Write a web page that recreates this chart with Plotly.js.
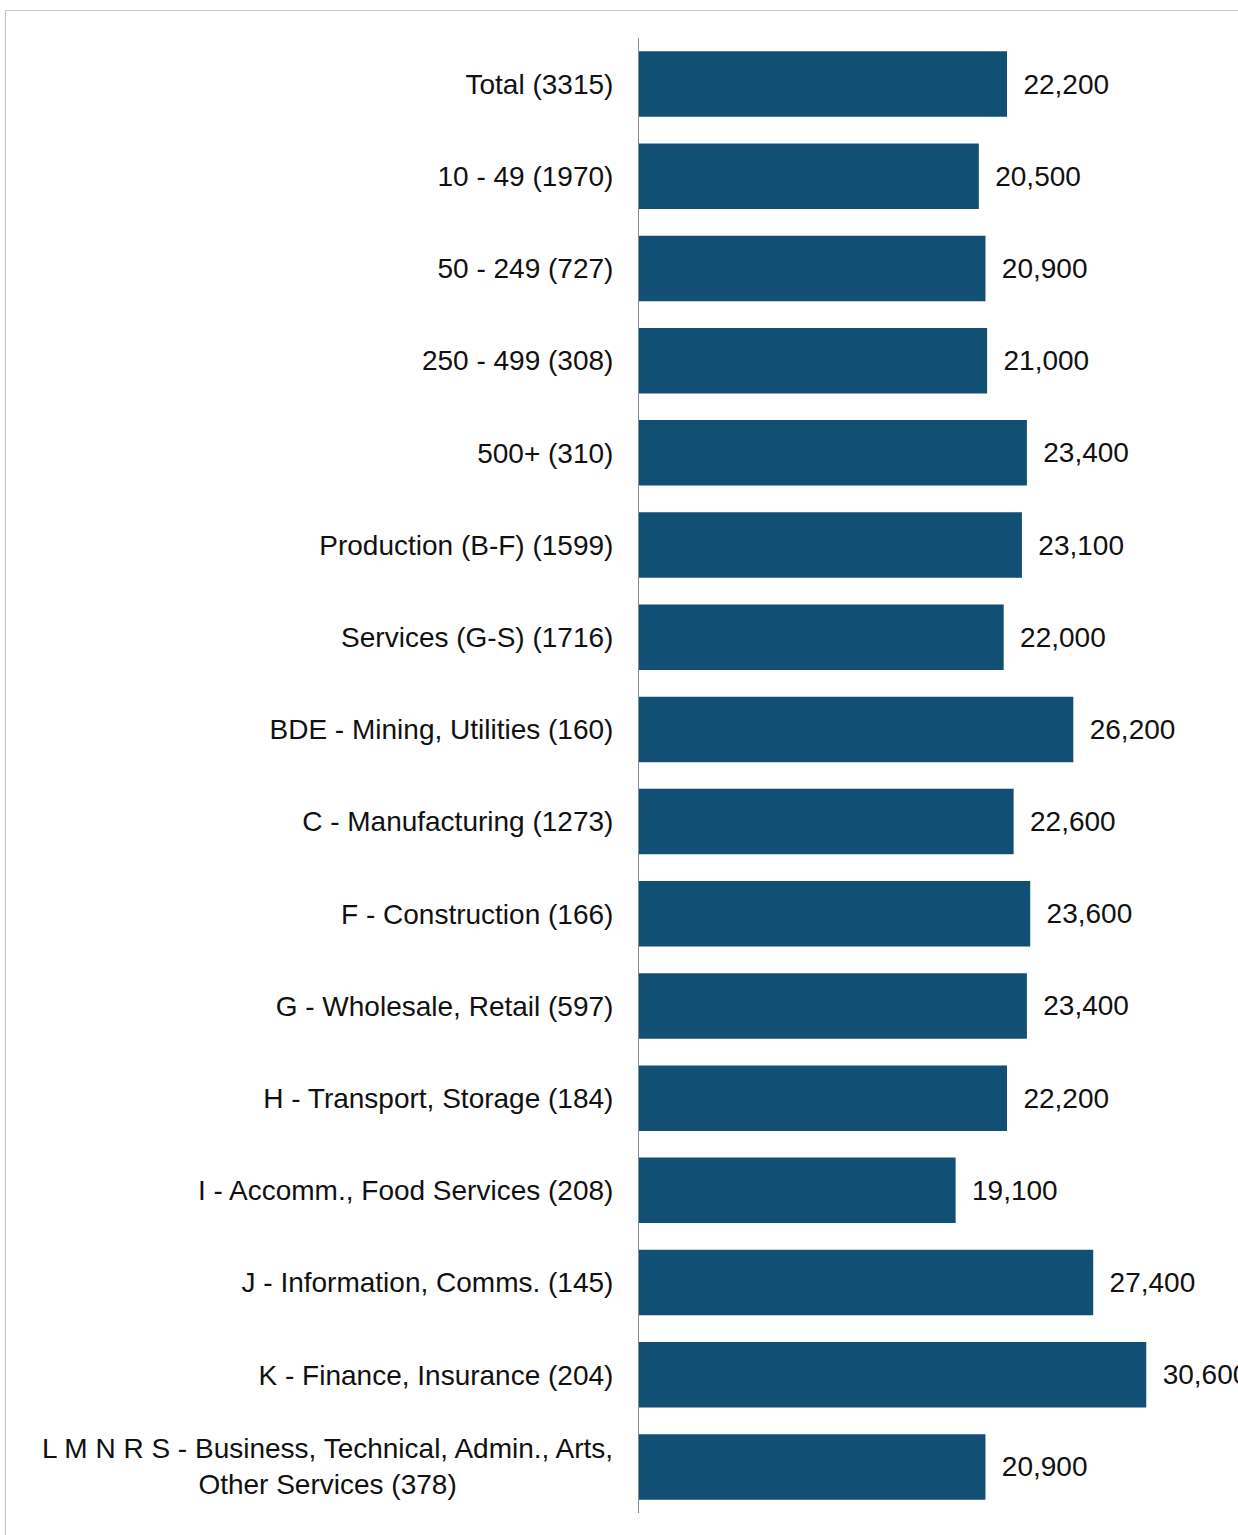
<!DOCTYPE html>
<html>
<head>
<meta charset="utf-8">
<script src="https://cdn.plot.ly/plotly-3.0.1.min.js"></script>
<style>
  html, body { margin: 0; padding: 0; background: #ffffff; overflow: hidden; }
  #frame { position: absolute; left: 5px; top: 10px; width: 1400px; height: 1700px;
           border: 1px solid #c4c4c4; box-sizing: border-box; }
  #chart { position: absolute; left: 0; top: 0; width: 1238px; height: 1535px; }
</style>
</head>
<body>
<div id="frame"></div>
<div id="chart"></div>
<script>
const categories = [
  "Total (3315)",
  "10 - 49 (1970)",
  "50 - 249 (727)",
  "250 - 499 (308)",
  "500+ (310)",
  "Production (B-F) (1599)",
  "Services (G-S) (1716)",
  "BDE - Mining, Utilities (160)",
  "C - Manufacturing (1273)",
  "F - Construction (166)",
  "G - Wholesale, Retail (597)",
  "H - Transport, Storage (184)",
  "I - Accomm., Food Services (208)",
  "J - Information, Comms. (145)",
  "K - Finance, Insurance (204)",
  "L M N R S - Business, Technical, Admin., Arts,<br>Other Services (378)"
];
const values = [22200, 20500, 20900, 21000, 23400, 23100, 22000, 26200, 22600, 23600, 23400, 22200, 19100, 27400, 30600, 20900];

const lastIdx = categories.length - 1;
const tickText = categories.map((c, i) => i === lastIdx ? "" : c);
const FONT = "Liberation Sans, Arial, sans-serif";
const FS = 28;

const trace = {
  type: "bar",
  orientation: "h",
  y: categories,
  x: values,
  marker: { color: "#114f74", line: { width: 0 } },
  width: 0.71,
  text: values.map(v => "\u00a0\u2009" + v.toLocaleString("en-US")),
  textposition: "outside",
  textfont: { family: FONT, size: FS, color: "#111111" },
  constraintext: "none",
  cliponaxis: false,
  hoverinfo: "none"
};

const layout = {
  width: 1238,
  height: 1535,
  margin: { l: 639, r: 0, t: 38, b: 22 },
  paper_bgcolor: "rgba(0,0,0,0)",
  plot_bgcolor: "rgba(0,0,0,0)",
  showlegend: false,
  font: { family: FONT, size: FS, color: "#111111" },
  xaxis: {
    range: [0, 36134],
    visible: false,
    showgrid: false,
    zeroline: false
  },
  yaxis: {
    type: "category",
    categoryorder: "array",
    categoryarray: categories,
    autorange: "reversed",
    tickmode: "array",
    tickvals: categories,
    ticktext: tickText,
    ticks: "",
    ticklabelstandoff: 19,
    showline: true,
    linecolor: "#8a8a8a",
    linewidth: 1,
    showgrid: false,
    zeroline: false,
    tickfont: { family: FONT, size: FS, color: "#111111" }
  },
  annotations: [{
    xref: "paper",
    yref: "y",
    x: 0,
    y: categories[lastIdx],
    xanchor: "right",
    yanchor: "middle",
    xshift: -24,
    align: "center",
    showarrow: false,
    text: categories[lastIdx],
    font: { family: FONT, size: FS, color: "#111111" }
  }]
};

Plotly.newPlot("chart", [trace], layout, { displayModeBar: false, staticPlot: true });
</script>
</body>
</html>
